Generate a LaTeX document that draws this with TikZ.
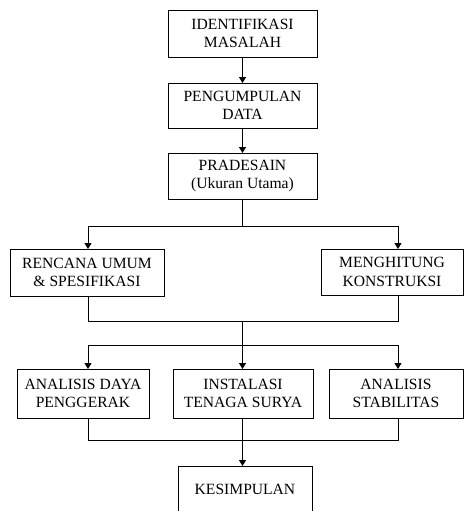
\documentclass[tikz,border=0pt]{standalone}
\usepackage{fontspec}
\setmainfont{Liberation Serif}
\usetikzlibrary{arrows.meta}
\tikzset{
  box/.style={draw, line width=0.9pt, align=center, inner sep=0pt, outer sep=0pt,
    font=\fontsize{15.6}{18.5}\selectfont},
  conn/.style={line width=0.9pt},
  arr/.style={conn, -{Triangle[width=7pt,length=6pt]}}
}
\begin{document}
\begin{tikzpicture}[x=1pt,y=-1pt]
\clip (0,0) rectangle (464,511);
\node[box, minimum width=149pt, minimum height=47pt] (b1) at (242.5,33.5) {IDENTIFIKASI\\MASALAH};
\node[box, minimum width=149pt, minimum height=45pt] (b2) at (242.5,105.5) {PENGUMPULAN\\DATA};
\node[box, minimum width=149pt, minimum height=46pt] (b3) at (242.5,176) {PRADESAIN\\(Ukuran Utama)};
\node[box, minimum width=154pt, minimum height=47pt] (rencana) at (87,272.5) {RENCANA UMUM\\\& SPESIFIKASI};
\node[box, minimum width=142pt, minimum height=46pt] (hitung) at (392,272) {MENGHITUNG\\KONSTRUKSI};
\node[box, minimum width=132pt, minimum height=49pt] (daya) at (83,393.5) {ANALISIS DAYA\\PENGGERAK};
\node[box, minimum width=140pt, minimum height=49pt] (inst) at (243,393.5) {INSTALASI\\TENAGA SURYA};
\node[box, minimum width=134pt, minimum height=49pt] (stab) at (396,393.5) {ANALISIS\\STABILITAS};
\node[box, minimum width=134pt, minimum height=46pt] (kes) at (245,489) {KESIMPULAN};

\draw[arr] (b1.south) -- (b2.north);
\draw[arr] (b2.south) -- (b3.north);

\coordinate (t1) at (242.5,226);
\coordinate (t1l) at (88,226);
\coordinate (t1r) at (398,226);
\draw[conn] (b3.south) -- (t1);
\draw[arr] (t1) -- (t1l) -- (t1l |- rencana.north);
\draw[arr] (t1) -- (t1r) -- (t1r |- hitung.north);

\coordinate (m1) at (242.5,321);
\coordinate (m1l) at (88,321);
\coordinate (m1r) at (398,321);
\draw[conn] (rencana.south -| m1l) -- (m1l) -- (m1r) -- (hitung.south -| m1r);

\coordinate (t2) at (242.5,345);
\coordinate (t2l) at (88,345);
\coordinate (t2r) at (398,345);
\draw[conn] (m1) -- (t2);
\draw[conn] (t2l) -- (t2r);
\draw[arr] (t2l) -- (t2l |- daya.north);
\draw[arr] (t2) -- (t2 |- inst.north);
\draw[arr] (t2r) -- (t2r |- stab.north);

\coordinate (m2) at (242.5,440);
\coordinate (m2l) at (88,440);
\coordinate (m2r) at (398,440);
\draw[conn] (daya.south -| m2l) -- (m2l) -- (m2r) -- (stab.south -| m2r);
\draw[conn] (inst.south -| m2) -- (m2);
\draw[arr] (m2) -- (m2 |- kes.north);
\end{tikzpicture}
\end{document}
